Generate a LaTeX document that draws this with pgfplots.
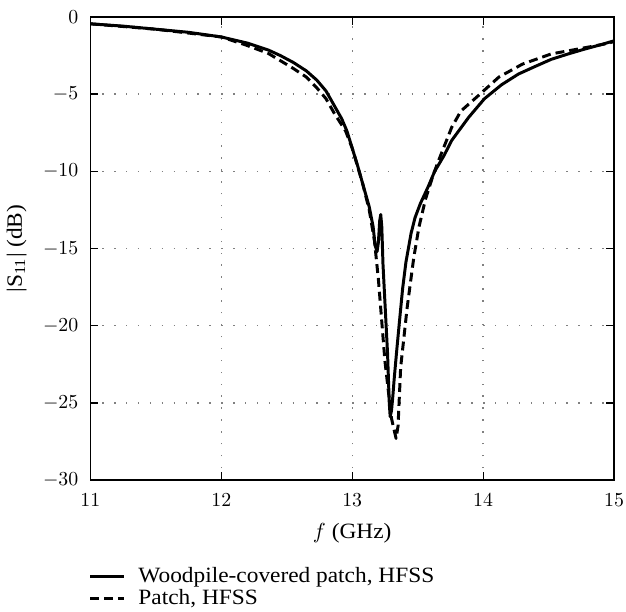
\documentclass[border=0pt]{standalone}
\usepackage{pgfplots}
\pgfplotsset{compat=1.18}
\usepackage{fontspec}
\setmainfont{Liberation Serif}[FakeStretch=1.07]
\begin{document}
\begin{tikzpicture}
\begin{axis}[
  scale only axis,
  width=264pt, height=233.5pt,
  xmin=11, xmax=15, ymin=-30, ymax=0,
  xtick={11,12,13,14,15}, ytick={-30,-25,-20,-15,-10,-5,0},
  tick align=inside, major tick length=4pt,
  tick style={black, line width=0.6pt},
  axis line style={line width=0.7pt},
  grid=major,
  major grid style={gray, line width=0.7pt, dash pattern=on 0.7pt off 5.3pt},
  font=\fontsize{11}{12}\selectfont,
  ticklabel style={font=\fontsize{10}{11}\selectfont},
  xticklabel style={inner sep=1pt, yshift=-5.5pt},
  yticklabel style={xshift=-2.5pt},
  xlabel={$f$ (GHz)}, ylabel={|S\textsubscript{11}| (dB)},
  xlabel style={yshift=-4pt},
  ylabel style={yshift=1.5pt},
  legend style={at={(0,-0.178)}, anchor=north west, xshift=-1pt, inner sep=0pt, draw=none, fill=none,
    font=\fontsize{11}{10.5}\selectfont, row sep=-2pt, cells={anchor=west}},
  legend cell align=left,
  legend image code/.code={\draw[#1] (0cm,0cm) -- (0.6cm,0cm); \path (0.6cm+4.5pt,0cm);},
]
\coordinate (tl) at (rel axis cs:0,1);
\addplot[black, line width=1.5pt, line join=round] coordinates {
(11.0,-0.45) (11.25,-0.6) (11.5,-0.8) (11.75,-1.0) (12.0,-1.3) (12.2,-1.7)
(12.36,-2.15) (12.45,-2.5) (12.55,-2.95) (12.65,-3.5) (12.73,-4.1) (12.8,-4.8)
(12.86,-5.7) (12.92,-6.6) (12.96,-7.4) (13.0,-8.5) (13.04,-9.6) (13.08,-10.8)
(13.13,-12.3) (13.16,-13.6) (13.175,-14.8) (13.19,-15.2) (13.2,-14.6) (13.21,-13.2)
(13.218,-12.8) (13.226,-13.6) (13.235,-16) (13.25,-18.5) (13.27,-21.8) (13.283,-25.0)
(13.29,-25.9) (13.3,-25.5) (13.31,-24.6) (13.32,-23.5) (13.34,-21.6) (13.36,-19.8)
(13.385,-17.6) (13.41,-15.9) (13.45,-14.0) (13.48,-13.0) (13.52,-12.1) (13.58,-11.0)
(13.63,-10.0) (13.7,-9.0) (13.76,-8.0) (13.89,-6.5) (14.01,-5.3) (14.14,-4.4)
(14.27,-3.7) (14.4,-3.2) (14.52,-2.75) (14.65,-2.4) (14.77,-2.1) (14.9,-1.8) (15.0,-1.55)
};
\addlegendentry{Woodpile-covered patch, HFSS}
\addplot[black, line width=1.5pt, line join=round, dash pattern=on 4.5pt off 2.5pt] coordinates {
(11.0,-0.45) (11.5,-0.8) (12.0,-1.3) (12.19,-1.83) (12.36,-2.37) (12.55,-3.34)
(12.65,-3.9) (12.73,-4.6) (12.8,-5.3) (12.86,-6.2) (12.95,-7.4) (13.0,-8.5)
(13.08,-10.8) (13.13,-12.5) (13.17,-14.5) (13.2,-17) (13.25,-22.3) (13.3,-26.0)
(13.335,-27.3) (13.35,-26.5) (13.37,-22.7) (13.42,-18.8) (13.47,-15.6) (13.51,-13.6)
(13.56,-11.8) (13.62,-10.2) (13.66,-9.3) (13.76,-7.15) (13.83,-6.1) (13.95,-5.2)
(14.12,-3.9) (14.3,-3.06) (14.52,-2.4) (14.72,-2.09) (14.92,-1.77) (15.0,-1.6)
};
\addlegendentry{Patch, HFSS}
\end{axis}
\path (tl) ++(0,8.5pt);
\end{tikzpicture}
\end{document}
